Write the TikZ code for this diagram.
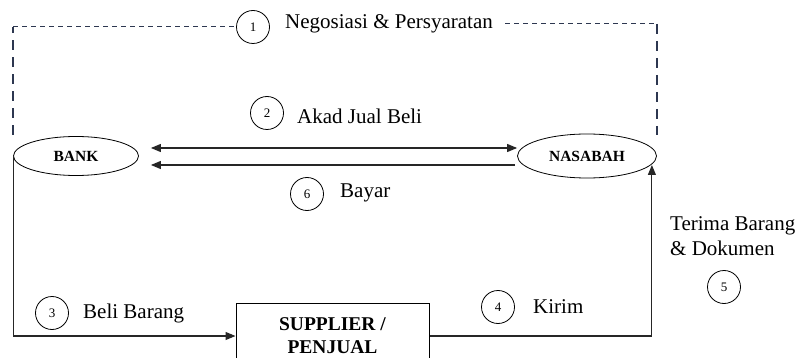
\documentclass[tikz,border=0pt]{standalone}
\usepackage{fontspec}
\setmainfont{Liberation Serif}
\usetikzlibrary{arrows.meta,shapes.geometric}
\definecolor{dashc}{RGB}{45,55,80}
\tikzset{
  num/.style={draw, circle, minimum size=33pt, inner sep=0pt, line width=0.8pt, font=\fontsize{13}{13}\selectfont},
  lbl/.style={anchor=west, inner sep=0pt, font=\fontsize{21}{25}\selectfont},
  party/.style={draw, ellipse, inner sep=0pt, line width=0.8pt, font=\fontsize{15.5}{15.5}\selectfont\bfseries},
  flow/.style={line width=1.1pt, black!85, -{Triangle[length=10pt,width=8pt]}},
  dashh/.style={dash pattern=on 5pt off 4pt, line width=1pt, dashc},
  dashv/.style={dash pattern=on 10pt off 7pt, line width=1.3pt, dashc},
}
\begin{document}
\begin{tikzpicture}[x=1pt,y=-1pt]
  \useasboundingbox (0,0) rectangle (803,358);
  % parties
  \node[party, minimum width=125pt, minimum height=39pt] (bank) at (76,156) {BANK};
  \node[party, minimum width=139pt, minimum height=44pt] (nasabah) at (587,156) {NASABAH};
  \node[draw, rectangle, line width=1pt, minimum width=193pt, minimum height=66pt, align=center,
        font=\fontsize{19.5}{23}\selectfont\bfseries] (supplier) at (332.5,336) {SUPPLIER /\\PENJUAL};
  % steps
  \node[num] (n1) at (253,27) {1};
  \node[lbl] (negosiasi) at (285,24) {Negosiasi \& Persyaratan};
  \node[num] (n2) at (267,113) {2};
  \node[lbl] (akad) at (297,116) {Akad Jual Beli};
  \node[num] (n6) at (307,194) {6};
  \node[lbl] (bayar) at (340,193) {Bayar};
  \node[num] (n3) at (52,313) {3};
  \node[lbl] (beli) at (83,313) {Beli Barang};
  \node[num] (n4) at (498,307) {4};
  \node[lbl] (kirim) at (533,307) {Kirim};
  \node[lbl, align=left] (terima) at (670,236) {Terima Barang\\\& Dokumen};
  \node[num] (n5) at (724,287) {5};
  % negosiasi (dashed)
  \draw[dashv] ([yshift=21pt]bank.west) -- (bank.west |- n1);
  \draw[dashh] (bank.west |- n1) -- (n1.west);
  \draw[dashh] ([xshift=12pt]negosiasi.east) -- (nasabah.east |- negosiasi);
  \draw[dashv] (nasabah.east |- negosiasi) -- ([yshift=21pt]nasabah.east);
  % flows
  \draw[flow, {Triangle[length=10pt,width=8pt]}-{Triangle[length=10pt,width=8pt]}]
       ([xshift=12pt,yshift=8pt]bank.east) -- ([yshift=8pt]nasabah.west);
  \draw[flow] ([xshift=-2pt,yshift=-9pt]nasabah.west) -- ([xshift=12pt,yshift=-9pt]bank.east);
  \draw[flow] (bank.west) |- (supplier.west);
  \draw[flow] (supplier.east) -| ([xshift=-5pt,yshift=-9pt]nasabah.east);
\end{tikzpicture}
\end{document}
